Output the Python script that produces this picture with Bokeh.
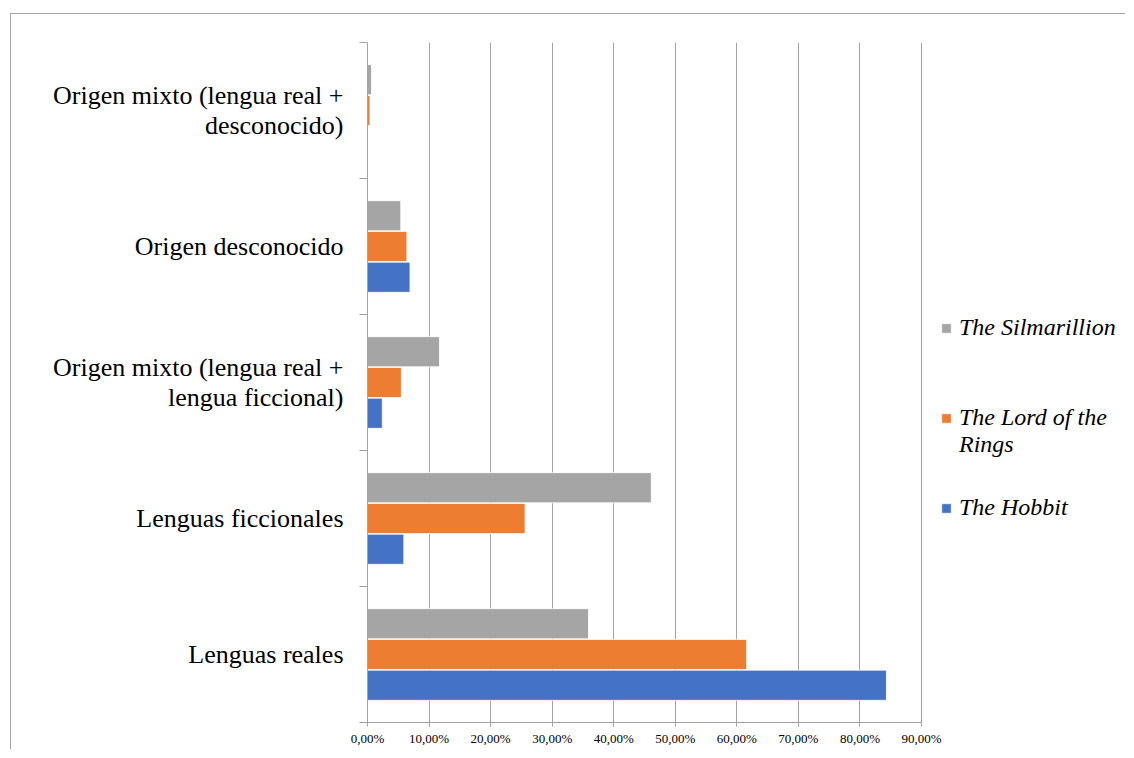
from bokeh.plotting import figure
from bokeh.models import (Range1d, FixedTicker, ColumnDataSource,
                          Legend, LegendItem, LinearAxis)
from bokeh.transform import dodge
from bokeh.embed import file_html
from bokeh.resources import INLINE

# ---------------- data ----------------
categories = [
    "Lenguas reales",
    "Lenguas ficcionales",
    "Origen mixto (lengua real +\nlengua ficcional)",
    "Origen desconocido",
    "Origen mixto (lengua real +\ndesconocido)",
]
series_names = ["The Hobbit", "The Lord of the Rings", "The Silmarillion"]
hobbit = [84.3, 5.9, 2.4, 6.9, 0.0]
lotr = [61.6, 25.6, 5.5, 6.4, 0.4]
silmarillion = [35.9, 46.1, 11.7, 5.4, 0.65]
x_ticks = [0, 10, 20, 30, 40, 50, 60, 70, 80, 90]
x_tick_labels = ["0,00%", "10,00%", "20,00%", "30,00%", "40,00%",
                 "50,00%", "60,00%", "70,00%", "80,00%", "90,00%"]

colors = {"The Hobbit": "#4472C4", "The Lord of the Rings": "#ED7D31",
          "The Silmarillion": "#A5A5A5"}

ypos = [i + 0.5 for i in range(len(categories))]
src = ColumnDataSource(dict(y=ypos, cat=categories, hobbit=hobbit,
                            lotr=lotr, silm=silmarillion))

GRID = "#a3a3a3"

# layout (pixels)
W, H = 1115, 736
LEFT, TOP, BOTTOM = 356, 28, 28
AXIS_W = 554                     # width of the 0..90 % scale
FRAME_W = W - LEFT               # frame runs to the right edge (room for legend)
x_end = x_ticks[-1] * FRAME_W / AXIS_W

p = figure(width=W, height=H, x_range=Range1d(0, x_end),
           y_range=Range1d(0, len(categories)),
           output_backend="svg", toolbar_location=None,
           min_border_left=LEFT, min_border_right=0,
           min_border_top=TOP, min_border_bottom=BOTTOM)
p.margin = (13, 0, 0, 10)
p.styles = {"border-top": "1px solid #a6a6a6", "border-left": "1px solid #a6a6a6"}
p.outline_line_color = None
p.background_fill_color = "white"
p.border_fill_color = "white"

bh = 0.222
off = 0.226
r_silm = p.hbar(y=dodge("y", off), right="silm", left=0, height=bh, source=src,
                fill_color=colors["The Silmarillion"], line_color="white", line_width=0.8)
r_lotr = p.hbar(y=dodge("y", 0), right="lotr", left=0, height=bh, source=src,
                fill_color=colors["The Lord of the Rings"], line_color="white", line_width=0.8)
r_hob = p.hbar(y=dodge("y", -off), right="hobbit", left=0, height=bh, source=src,
               fill_color=colors["The Hobbit"], line_color="white", line_width=0.8)

# x axis
p.xaxis.ticker = FixedTicker(ticks=x_ticks)
p.xaxis.bounds = (x_ticks[0], x_ticks[-1])
p.xaxis.major_label_overrides = {t: l for t, l in zip(x_ticks, x_tick_labels)}
p.xaxis.axis_line_color = GRID
p.xaxis.major_tick_line_color = GRID
p.xaxis.major_tick_out = 4
p.xaxis.major_tick_in = 0
p.xaxis.minor_tick_line_color = None
p.xaxis.major_label_text_font = "Liberation Serif"
p.xaxis.major_label_text_font_size = "13px"
p.xaxis.major_label_text_color = "#000000"
p.xaxis.major_label_standoff = 4
p.xgrid.ticker = FixedTicker(ticks=x_ticks)
p.xgrid.grid_line_color = GRID
p.ygrid.grid_line_color = None

# y axis: tick marks between categories, no labels
p.yaxis.ticker = FixedTicker(ticks=list(range(len(categories) + 1)))
p.yaxis.major_label_overrides = {i: "" for i in range(len(categories) + 1)}
p.yaxis.axis_line_color = GRID
p.yaxis.major_tick_line_color = GRID
p.yaxis.major_tick_out = 8
p.yaxis.major_tick_in = 0
p.yaxis.minor_tick_line_color = None
p.yaxis.major_label_standoff = 0

# second left axis carrying the category labels at the category centres
lab_axis = LinearAxis(ticker=FixedTicker(ticks=ypos),
                      major_label_overrides={y: c for y, c in zip(ypos, categories)},
                      axis_line_color=None, major_tick_line_color=None,
                      minor_tick_line_color=None, major_label_standoff=10,
                      major_label_text_font="Liberation Serif",
                      major_label_text_font_size="26px",
                      major_label_text_color="#000000",
                      major_label_text_line_height=1.03)
p.add_layout(lab_axis, "left")

legend = Legend(items=[
    LegendItem(label="The Silmarillion", renderers=[r_silm]),
    LegendItem(label=" \nThe Lord of the\nRings", renderers=[r_lotr]),
    LegendItem(label="The Hobbit", renderers=[r_hob]),
], location=(573, 200), orientation="vertical",
    border_line_color=None, background_fill_alpha=0, padding=0, margin=0,
    spacing=35, glyph_width=12, glyph_height=12, label_height=29,
    label_standoff=7, label_text_font="Liberation Serif",
    label_text_font_style="italic", label_text_font_size="24px",
    label_text_line_height=1.2,
    label_text_color="#000000", click_policy="none")
p.add_layout(legend, "center")

open("out.html", "w").write(file_html(p, INLINE))
